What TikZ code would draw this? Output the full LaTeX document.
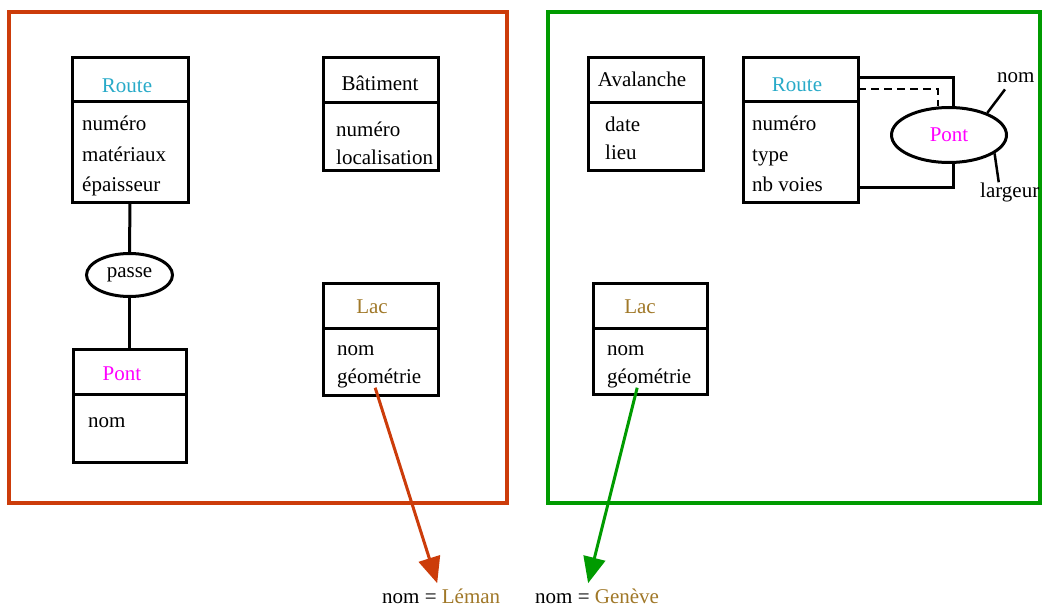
\documentclass[tikz,border=0pt]{standalone}
\usepackage{fontspec}
\setmainfont{Liberation Serif}
\usepackage{tikz}
\usetikzlibrary{positioning}
\usetikzlibrary{arrows.meta,shapes}
\definecolor{routec}{RGB}{40,170,200}
\definecolor{pontc}{RGB}{255,0,255}
\definecolor{lacc}{RGB}{160,120,40}
\definecolor{framered}{RGB}{204,60,10}
\definecolor{framegreen}{RGB}{0,155,0}
\tikzstyle{frame} = [line width=3.5pt]
\tikzstyle{box} = [draw, line width=3pt, anchor=north west, inner sep=0pt, outer sep=0pt]
\tikzstyle{title} = [anchor=base, inner sep=0pt]
\tikzstyle{attr} = [anchor=base west, inner sep=0pt]
\tikzstyle{assoc} = [ellipse, draw, line width=3pt, inner sep=0pt]
\tikzstyle{link} = [draw, line width=3pt]
\tikzstyle{valarrow} = [draw, line width=3pt, -{Triangle[width=22pt,length=26pt]}]

\begin{document}
\begin{tikzpicture}[x=1pt, y=-1pt, font=\fontsize{21}{25}\selectfont]
    \useasboundingbox (0,0) rectangle (1042,607);
    % the two schemas
    \draw[frame, draw=framered] (9,12) rectangle (507,503);
    \draw[frame, draw=framegreen] (548,12) rectangle (1040,503);

    % entity boxes: header and body
    \foreach \x/\y/\w/\hh/\hb/\name in {72/58/116/44/100/routeL, 73/349/113/45/68/pontL, 323/58/115/45/68/batim, 323/283/115/45/67/lacL, 588/58/115/45/68/aval, 743/58/115/44/100/routeR, 593/283/114/45/66/lacR}
    {
        \node[box, minimum width=\w pt, minimum height=\hh pt] (\name h) at (\x,\y) {};
        \node[box, minimum width=\w pt, minimum height=\hb pt] (\name b) at (\name h.south west) {};
    }
    \node[title, text=routec] (routeLt) at (127,93) {Route};
    \node[title, text=pontc] (pontLt) at (122,380) {Pont};
    \node[title] (batimt) at (380,91) {Bâtiment};
    \node[title, text=lacc] (lacLt) at (372,313) {Lac};
    \node[title] (avalt) at (642,87) {Avalanche};
    \node[title, text=routec] (routeRt) at (797,92) {Route};
    \node[title, text=lacc] (lacRt) at (640,313) {Lac};

    % attributes
    \foreach \x/\y/\name/\txt in {82/131/rL1/numéro, 82/161/rL2/matériaux, 82/191/rL3/épaisseur, 88/427/pL1/nom, 336/137/bA1/numéro, 336/165/bA2/localisation, 337/355/lL1/nom, 337/383/lL2/géométrie, 605/132/aV1/date, 605/160/aV2/lieu, 752/131/rR1/numéro, 752/161/rR2/type, 752/191/rR3/nb voies, 607/355/lR1/nom, 607/383/lR2/géométrie}
        \node[attr] (\name) at (\x,\y) {\txt};

    % associations
    \node[assoc, minimum width=86pt, minimum height=43pt] (passe) at (129.5,275) {passe};
    \path[link] (routeLb.south) -- (passe.north);
    \path[link] (passe.south) -- (pontLh.north);

    \node[assoc, minimum width=115pt, minimum height=55pt, text=pontc] (pontR) at (949,135) {Pont};
    \path[link] ([yshift=2pt]routeRh.east) -| ([xshift=4pt]pontR.north);
    \path[link, line width=2.5pt, dash pattern=on 8pt off 5pt] ([yshift=-9pt]routeRh.east) -| ([xshift=-11pt]pontR.north);
    \path[link] ([yshift=-36pt]routeRb.east) -| ([xshift=4pt]pontR.south);
    \node[attr] (nomP) at (997,83) {nom};
    \node[attr] (largP) at (980,197) {largeur};
    \path[link, line width=2.5pt] (pontR.30) -- ([xshift=8pt,yshift=-6pt]nomP.south west);
    \path[link, line width=2.5pt] (pontR.-22) -- ([xshift=-11pt]largP.north);

    % values of the lakes
    \node[attr] (leman) at (382,603) {nom = \textcolor{lacc}{Léman}};
    \node[attr] (geneve) at (535,603) {nom = \textcolor{lacc}{Genève}};
    \path[valarrow, draw=framered, fill=framered] ([xshift=-4pt]lL2.south) -- ([xshift=-4pt,yshift=5pt]leman.north);
    \path[valarrow, draw=framegreen, fill=framegreen] ([xshift=-12pt]lR2.south) -- ([xshift=-9pt,yshift=5pt]geneve.north);
\end{tikzpicture}
\end{document}
